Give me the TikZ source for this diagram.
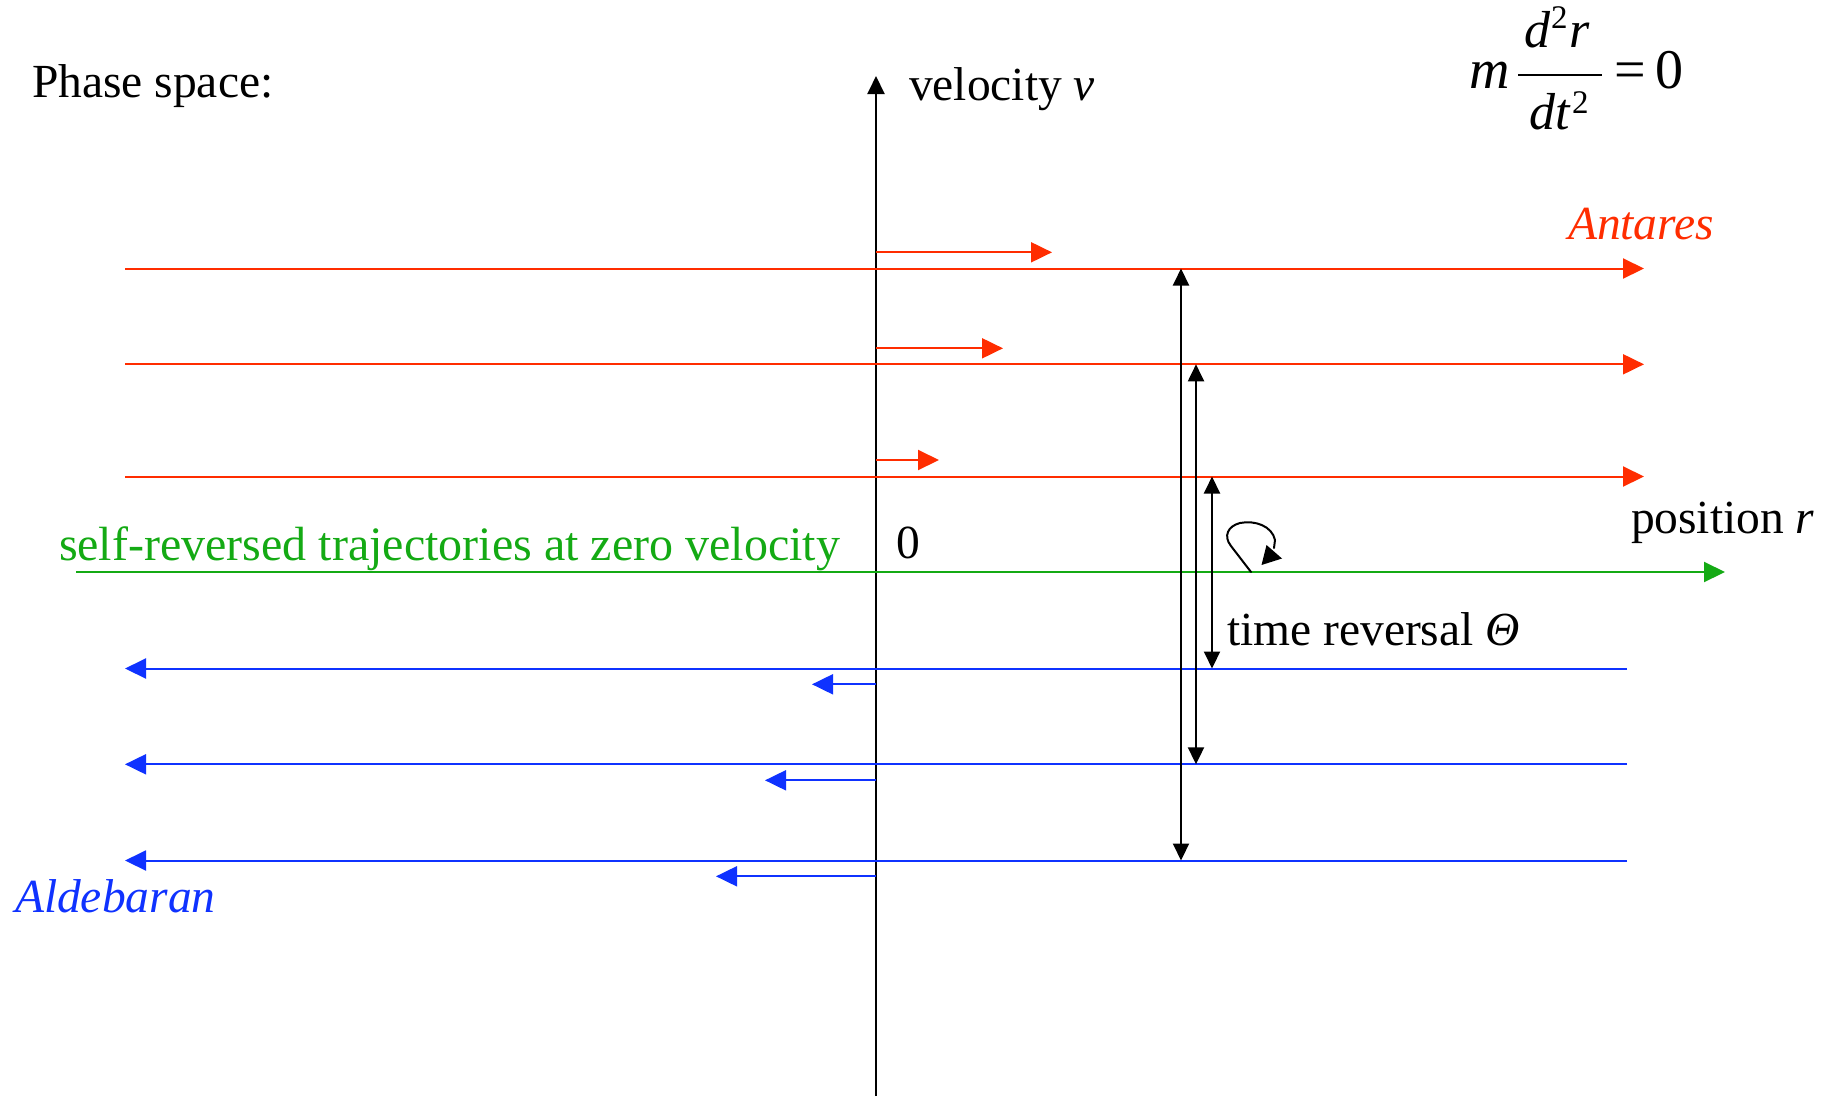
\documentclass[tikz,border=0pt]{standalone}
\usepackage{fontspec}
\setmainfont{Liberation Serif}
\usetikzlibrary{arrows.meta}
\definecolor{ared}{RGB}{255,45,0}
\definecolor{ablue}{RGB}{15,50,255}
\definecolor{agreen}{RGB}{20,170,20}
\begin{document}
\begin{tikzpicture}[x=1pt,y=-1pt,line width=2pt,
  txt/.style={font=\fontsize{47.5}{57}\selectfont,inner sep=0pt,anchor=base west},
  greentxt/.style={txt,font=\fontsize{48}{57}\selectfont,text=agreen},
  eqbig/.style={font=\fontsize{56}{60}\selectfont,inner sep=0pt,anchor=base west},
  eqfr/.style={font=\fontsize{52}{56}\selectfont,inner sep=0pt,anchor=base},
  big/.style={-{Triangle[length=21pt,width=20pt]}},
  blk/.style={black,{Triangle[length=17pt,width=16pt]}-{Triangle[length=17pt,width=16pt]}}]
\useasboundingbox (0,0) rectangle (1831,1096);
\fill[white] (0,0) rectangle (1831,1096);
% velocity axis
\coordinate (vb) at (876,1096);
\coordinate (vt) at (876,76);
\draw[-{Triangle[length=18pt,width=17pt]}] (vb) -- (vt);
% red trajectories
\foreach \y [count=\i] in {268.5,364.3,476.5}{
  \coordinate (rs\i) at (125,\y);
  \coordinate (re\i) at (1644,\y);
  \draw[ared,big] (rs\i) -- (re\i);
}
\coordinate (sr1s) at (876,252.3);  \coordinate (sr1e) at (1052,252.3);
\coordinate (sr2s) at (876,348.3);  \coordinate (sr2e) at (1003,348.3);
\coordinate (sr3s) at (876,460);    \coordinate (sr3e) at (939,460);
\draw[ared,big] (sr1s) -- (sr1e);
\draw[ared,big] (sr2s) -- (sr2e);
\draw[ared,big] (sr3s) -- (sr3e);
% green
\coordinate (gs) at (76,572);
\coordinate (ge) at (1725,572);
\draw[agreen,big] (gs) -- (ge);
% blue trajectories
\foreach \y [count=\i] in {668.5,764.3,860.5}{
  \coordinate (bs\i) at (1627,\y);
  \coordinate (be\i) at (125,\y);
  \draw[ablue,big] (bs\i) -- (be\i);
}
\coordinate (sb1s) at (876,684.3);  \coordinate (sb1e) at (812,684.3);
\coordinate (sb2s) at (876,780.3);  \coordinate (sb2e) at (765,780.3);
\coordinate (sb3s) at (876,876.3);  \coordinate (sb3e) at (716,876.3);
\draw[ablue,big] (sb1s) -- (sb1e);
\draw[ablue,big] (sb2s) -- (sb2e);
\draw[ablue,big] (sb3s) -- (sb3e);
% time reversal double arrows
\coordinate (t1a) at (1181,268.5); \coordinate (t1b) at (1181,860.5);
\coordinate (t2a) at (1196,364.3); \coordinate (t2b) at (1196,764.3);
\coordinate (t3a) at (1212,476.5); \coordinate (t3b) at (1212,668.5);
\draw[blk] (t1a) -- (t1b);
\draw[blk] (t2a) -- (t2b);
\draw[blk] (t3a) -- (t3b);
% self loop (time reversal acting on zero-velocity line)
\coordinate (ls) at (1251,572);
\draw[black,line cap=round,line join=round] (ls) -- (1231,546)
  .. controls (1223,536) and (1228,526) .. (1240,523)
  .. controls (1255,520) and (1272,526) .. (1275,540) -- (1274,548);
\fill[black] (1266.5,545) -- (1282,558.5) -- (1261.5,565) -- cycle;
% texts
\node[txt] (phase) at (31,97) {Phase space:};
\node[txt] (vel) at (908,100) {velocity \textit{v}};
\node[txt,text=ared] (ant) at (1567,239) {\textit{Antares}};
\node[txt] (zero) at (895,558) {0};
\node[greentxt] (self) at (58,560) {self-reversed trajectories at zero velocity};
\node[txt] (pos) at (1630,533) {position \textit{r}};
\node[txt] (tr) at (1226,645) {time reversal \textit{Θ}};
\node[txt,text=ablue] (ald) at (14,912) {\textit{Aldebaran}};
% equation
\node[eqbig] (eqm) at (1468,88) {\textit{m}};
\node[eqfr] (eqnum) at (1557,47) {\textit{d}\kern1pt\raisebox{19pt}{\fontsize{33}{33}\selectfont 2}\kern2pt\textit{r}};
\node[eqfr] (eqden) at (1559,129) {\textit{dt}\kern1pt\raisebox{16pt}{\fontsize{33}{33}\selectfont 2}};
\coordinate (barl) at (1518,75);
\coordinate (barr) at (1602,75);
\draw[line width=2.2pt] (barl) -- (barr);
\node[eqbig] (eqeq) at (1613,88) {=};
\node[eqbig] (eqz) at (1654,88) {0};
\end{tikzpicture}
\end{document}
